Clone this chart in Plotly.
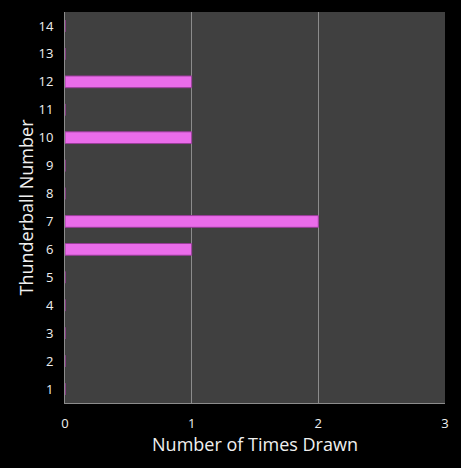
import plotly.graph_objs as go

numbers = [1, 2, 3, 4, 5, 6, 7, 8, 9, 10, 11, 12, 13, 14]
times_drawn = [0, 0, 0, 0, 0, 1, 2, 0, 0, 1, 0, 1, 0, 0]

bars = go.Bar(
    x=times_drawn,
    y=numbers,
    orientation='h',
    width=0.42,
    marker=dict(color='#ea6cea', line=dict(color='#9a3c9a', width=1)),
)

layout = go.Layout(
    width=461, height=468,
    paper_bgcolor='black',
    plot_bgcolor='#404040',
    margin=dict(l=65, r=16, t=12, b=65),
    font=dict(family='Open Sans', color='#f0f0f0', size=13),
    showlegend=False,
    xaxis=dict(
        range=[0, 3], dtick=1, tick0=0,
        showgrid=True, gridcolor='#8c8c8c', gridwidth=1,
        zeroline=False, showline=True, linecolor='#8c8c8c',
        ticks='outside', ticklen=8, tickcolor='rgba(0,0,0,0)',
        title=dict(text='Number of Times Drawn', font=dict(size=18), standoff=6),
    ),
    yaxis=dict(
        range=[0.5, 14.5], dtick=1, tick0=1,
        showgrid=False, zeroline=False,
        showline=True, linecolor='#8c8c8c',
        ticks='outside', ticklen=8, tickcolor='rgba(0,0,0,0)',
        title=dict(text='Thunderball Number', font=dict(size=18), standoff=0),
    ),
)

fig = go.Figure(data=[bars], layout=layout)
# drop the page's default body margin so the figure fills the window
fig.write_html("out.html", config={'displayModeBar': False},
               post_script="document.body.style.margin='0';document.body.style.background='black';")
